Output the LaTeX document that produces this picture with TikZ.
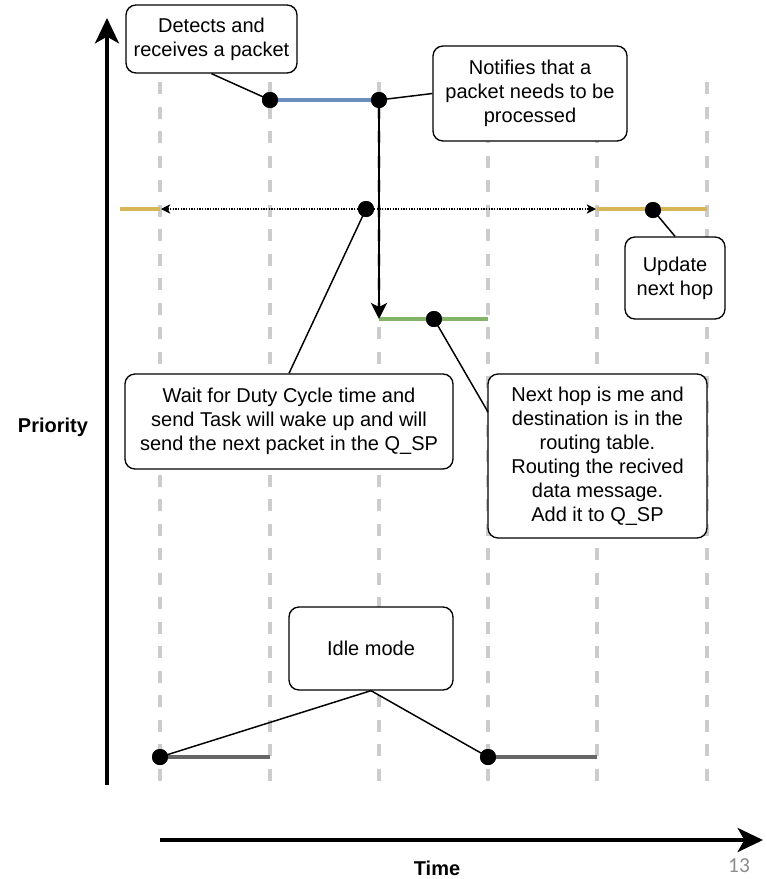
\documentclass[tikz,border=0pt]{standalone}
\usepackage{fontspec}
\setmainfont{Liberation Sans}
\newfontfamily\carlitofont{Carlito}
\usetikzlibrary{arrows.meta}
\definecolor{gridc}{HTML}{CCCCCC}
\definecolor{segblue}{HTML}{6C8EBF}
\definecolor{seggreen}{HTML}{82B366}
\definecolor{segyellow}{HTML}{D6B656}
\definecolor{seggray}{HTML}{666666}
\definecolor{pagenum}{HTML}{8C8C8C}
\begin{document}
\begin{tikzpicture}[x=0.75pt,y=-0.75pt,
  box/.style={draw, rounded corners=7.5pt, fill=white, line width=1pt, align=center,
    inner sep=0pt, font=\fontsize{15}{18}\selectfont},
  dot/.style={circle, fill=black, minimum size=12pt, inner sep=0pt},
  gridl/.style={gridc, line width=2.5pt, dash pattern=on 9pt off 9.4pt},
  seg/.style={line width=3pt},
  conn/.style={line width=1.1pt},
  axis/.style={line width=3pt, -{Stealth[length=19pt,width=18pt,inset=5pt]}},
  dotarr/.style={line width=0.8pt, dash pattern=on 1pt off 1pt, -{Stealth[length=7pt,width=7pt,inset=2pt]}},
  lbl/.style={font=\bfseries\fontsize{15}{18}\selectfont},
]
\useasboundingbox (0,0) rectangle (767,879);

% grid lines
\foreach \x in {160,270,379,488,597,707}
  \draw[gridl] (\x,82) -- (\x,785);

% axes
\coordinate (yb) at (107,785);
\coordinate (yt) at (107,18);
\coordinate (xl) at (160,840);
\coordinate (xr) at (763,840);
\draw[axis] (yb) -- (yt);
\draw[axis] (xl) -- (xr);
\node[lbl] (prio) at (53,427) {Priority};
\node[lbl] (time) at (437,868) {Time};
\node[font=\carlitofont\fontsize{16}{18}\selectfont, text=pagenum, inner sep=0pt] (pnum) at (739,866) {13};

% dots
\node[dot] (d1) at (270,100) {};
\node[dot] (d2) at (379,100) {};
\node[dot] (d3) at (434,319) {};
\node[dot] (d4) at (366,209) {};
\node[dot] (d5) at (653,210) {};
\node[dot] (g1) at (160,757) {};
\node[dot] (g2) at (488,757) {};

% segment endpoints
\coordinate (gs) at (379,319);
\coordinate (ge) at (488,319);
\coordinate (ya) at (120,209);
\coordinate (yb1) at (160,209);
\coordinate (yc) at (597,209);
\coordinate (yd) at (707,209);
\coordinate (ge1) at (270,757);
\coordinate (ge2) at (597,757);
\coordinate (la) at (161,209);
\coordinate (ra) at (596,209);

% segments
\draw[seg, segblue] (d1.center) -- (d2.center);
\draw[seg, seggreen] (gs) -- (ge);
\draw[seg, segyellow] (ya) -- (yb1);
\draw[seg, segyellow] (yc) -- (yd);
\draw[seg, seggray] (g1.center) -- (ge1);
\draw[seg, seggray] (g2.center) -- (ge2);

% arrows
\draw[line width=2.2pt, -{Stealth[length=12pt,width=12pt,inset=3pt]}] (d2.center) -- (gs);
\draw[dotarr] (d4.center) -- (la);
\draw[dotarr] (d4.center) -- (ra);

% boxes
\node[box, minimum width=128.25pt, minimum height=51pt] (det) at (211.5,39)
  {Detects and\\receives a packet};
\node[box, minimum width=145.5pt, minimum height=71.25pt] (notif) at (530,93.5)
  {Notifies that a\\packet needs to be\\processed};
\node[box, minimum width=75pt, minimum height=61.5pt] (upd) at (675,278)
  {Update\\next hop};
\node[box, minimum width=246pt, minimum height=71.25pt] (wait) at (289,421.5)
  {Wait for Duty Cycle time and\\send Task will wake up and will\\send the next packet in the Q\_SP};
\node[box, minimum width=164.25pt, minimum height=123pt] (nh) at (597.5,456)
  {Next hop is me and\\destination is in the\\routing table.\\Routing the recived\\data message.\\Add it to Q\_SP};
\node[box, minimum width=123pt, minimum height=62.25pt] (idle) at (371,648.5)
  {Idle mode};
\coordinate (nhc) at (488,412);

% connectors
\draw[conn] (det.south) -- (d1.center);
\draw[conn] (notif.west) -- (d2.center);
\draw[conn] (upd.north) -- (d5.center);
\draw[conn] (wait.north) -- (d4.center);
\draw[conn] (nhc) -- (d3.center);
\draw[conn] (idle.south) -- (g1.center);
\draw[conn] (idle.south) -- (g2.center);

% redraw dots on top
\foreach \n in {d1,d2,d3,d4,d5,g1,g2}
  \fill (\n) circle (6pt);
\end{tikzpicture}
\end{document}
